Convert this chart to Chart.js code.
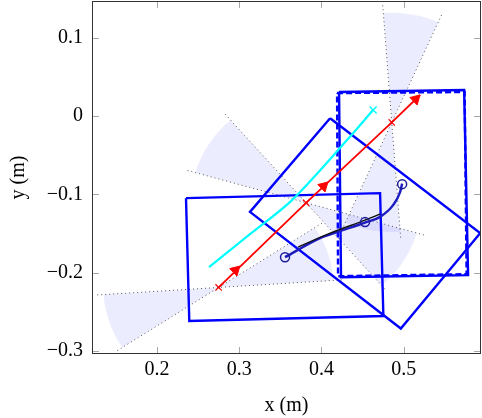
<!DOCTYPE html>
<html>
<head>
<meta charset="utf-8">
<script src="https://cdn.jsdelivr.net/npm/chart.js@4.4.0/dist/chart.umd.min.js"></script>
<style>
  html, body { margin: 0; padding: 0; background: #fff; }
  #wrap { width: 482px; height: 418px; }
</style>
</head>
<body>
<div id="wrap"><canvas id="fovChart" width="482" height="418"></canvas></div>
<script>
// Axis ticks
const xTicks = [0.2, 0.3, 0.4, 0.5];
const yTicks = [-0.3, -0.2, -0.1, 0, 0.1];

// Sensor cones: apex and the two boundary directions (deg)
const wedgeX = [0.2750, 0.3813, 0.4855];
const wedgeY = [-0.2190, -0.1108, -0.0081];
const wedgeFrom = [3.7, 131, 66.2];
const wedgeTo = [33.2, 164, 94.2];
const shadeRadius = 0.14;
const rayLength = 0.15;

// Red pose line
const redX = [0.2750, 0.3813, 0.4855, 0.5200];
const redY = [-0.2190, -0.1108, -0.0081, 0.0269];
const arrowX = [0.2955, 0.4026, 0.5146];
const arrowY = [-0.1970, -0.0896, 0.0216];

// Cyan path
const cyanX = [0.2633, 0.3131, 0.3642, 0.4311, 0.4628];
const cyanY = [-0.1931, -0.1509, -0.1074, -0.0307, 0.0077];

// Boxes (corners)
const boxAX = [0.2353, 0.4713, 0.4753, 0.2393];
const boxAY = [-0.1049, -0.0985, -0.2554, -0.2618];
const boxBX = [0.4105, 0.5929, 0.4965, 0.3131];
const boxBY = [-0.0029, -0.1496, -0.2715, -0.1224];
const boxCX = [0.4214, 0.5735, 0.5783, 0.4238];
const boxCY = [0.0307, 0.0332, -0.2033, -0.2059];
const boxDX = [0.4190, 0.5741, 0.5765, 0.4202];
const boxDY = [0.0294, 0.0307, -0.2020, -0.2046];

// Trajectory
const trajX = [0.3557, 0.3983, 0.4190, 0.4530, 0.4713, 0.4871, 0.4956, 0.4981];
const trajY = [-0.1803, -0.1560, -0.1483, -0.1362, -0.1288, -0.1138, -0.0972, -0.0863];
const refX = [0.3715, 0.4105, 0.4530, 0.4713];
const refY = [-0.1675, -0.1496, -0.1330, -0.1253];
const waypointX = [0.3557, 0.4530, 0.4981];
const waypointY = [-0.1803, -0.1355, -0.0870];

const pts = (xs, ys) => xs.map((x, i) => ({x: x, y: ys[i]}));
const closed = (xs, ys) => { const p = pts(xs, ys); p.push(p[0]); return p; };
const rad = d => d * Math.PI / 180;

function wedgeShape(i) {
    const apex = {x: wedgeX[i], y: wedgeY[i]};
    const out = [apex];
    [0, 180].forEach(off => {
        const n = 30;
        for (let k = 0; k <= n; k++) {
            const a = rad(wedgeFrom[i] + (wedgeTo[i] - wedgeFrom[i]) * k / n + off);
            out.push({x: apex.x + shadeRadius * Math.cos(a), y: apex.y + shadeRadius * Math.sin(a)});
        }
        out.push(apex);
    });
    return out;
}

function ray(i, deg) {
    const a = rad(deg);
    return [
        {x: wedgeX[i] + rayLength * Math.cos(a), y: wedgeY[i] + rayLength * Math.sin(a)},
        {x: wedgeX[i] - rayLength * Math.cos(a), y: wedgeY[i] - rayLength * Math.sin(a)}
    ];
}

const datasets = [];

// shaded cones
wedgeX.forEach((_, i) => {
    datasets.push({
        data: wedgeShape(i),
        borderWidth: 0,
        borderColor: 'rgba(0,0,0,0)',
        backgroundColor: 'rgba(0,0,255,0.075)',
        fill: 'shape'
    });
});

// dotted cone edges
wedgeX.forEach((_, i) => {
    [wedgeFrom[i], wedgeTo[i]].forEach(d => {
        datasets.push({
            data: ray(i, d),
            borderColor: '#555',
            borderWidth: 1,
            borderDash: [1, 3],
            fill: false
        });
    });
});

// boxes
[[boxAX, boxAY, []], [boxBX, boxBY, []], [boxCX, boxCY, []], [boxDX, boxDY, [6, 3]]].forEach(b => {
    datasets.push({
        data: closed(b[0], b[1]),
        borderColor: '#0000ff',
        borderWidth: 2.4,
        borderDash: b[2],
        borderJoinStyle: 'miter',
        fill: false
    });
});

// cyan path + end marker
datasets.push({
    data: pts(cyanX, cyanY),
    borderColor: '#00ffff',
    borderWidth: 2.2,
    tension: 0.3,
    fill: false
});
datasets.push({
    data: [{x: cyanX[cyanX.length - 1], y: cyanY[cyanY.length - 1]}],
    showLine: false,
    pointStyle: 'crossRot',
    pointRadius: 5,
    pointBorderColor: '#00ffff',
    pointBorderWidth: 1.4
});

// red line, markers, arrowheads
datasets.push({
    data: pts(redX, redY),
    borderColor: '#ff0000',
    borderWidth: 1.8,
    fill: false
});
datasets.push({
    data: pts(wedgeX, wedgeY),
    showLine: false,
    pointStyle: 'crossRot',
    pointRadius: 4.5,
    pointBorderColor: '#ff0000',
    pointBorderWidth: 1.2
});
datasets.push({
    data: pts(arrowX, arrowY),
    showLine: false,
    pointStyle: 'triangle',
    pointRotation: 46,
    pointRadius: 6,
    pointBackgroundColor: '#ff0000',
    pointBorderColor: '#ff0000',
    pointBorderWidth: 1
});

// trajectory
datasets.push({
    data: pts(trajX, trajY),
    borderColor: '#1c1cc0',
    borderWidth: 2.4,
    cubicInterpolationMode: 'monotone',
    fill: false
});
datasets.push({
    data: pts(refX, refY),
    borderColor: '#111',
    borderWidth: 1.4,
    cubicInterpolationMode: 'monotone',
    fill: false
});
datasets.push({
    data: pts(waypointX, waypointY),
    showLine: false,
    pointStyle: 'circle',
    pointRadius: 4.5,
    pointBackgroundColor: 'rgba(0,0,0,0)',
    pointBorderColor: '#1a1a9c',
    pointBorderWidth: 1.5
});

// first pushed = bottom layer
datasets.forEach((d, i) => { d.order = datasets.length - i; d.clip = 0; });

const fmt = v => (v === 0 ? '0' : v.toFixed(1).replace('-', '\u2212'));

const frameTicks = {
    id: 'frameTicks',
    afterDraw(chart) {
        const {ctx, chartArea: a, scales: {x, y}} = chart;
        ctx.save();
        ctx.strokeStyle = '#a8a8a8';
        ctx.lineWidth = 1;
        ctx.beginPath();
        xTicks.forEach(v => {
            const px = Math.round(x.getPixelForValue(v)) + 0.5;
            ctx.moveTo(px, a.bottom); ctx.lineTo(px, a.bottom - 7);
            ctx.moveTo(px, a.top); ctx.lineTo(px, a.top + 7);
        });
        yTicks.forEach(v => {
            const py = Math.round(y.getPixelForValue(v)) + 0.5;
            ctx.moveTo(a.left, py); ctx.lineTo(a.left + 7, py);
            ctx.moveTo(a.right, py); ctx.lineTo(a.right - 7, py);
        });
        ctx.stroke();
        ctx.strokeStyle = '#333';
        ctx.strokeRect(a.left + 0.5, a.top + 0.5, a.right - a.left - 1, a.bottom - a.top - 1);
        ctx.restore();
    }
};

Chart.defaults.font.family = "'Liberation Serif', serif";
Chart.defaults.font.size = 20;
Chart.defaults.color = '#000';

new Chart(document.getElementById('fovChart'), {
    type: 'line',
    data: { datasets: datasets },
    options: {
        responsive: false,
        animation: false,
        layout: { autoPadding: false, padding: { top: 1, right: 1, left: 0, bottom: 0 } },
        elements: { point: { radius: 0, hoverRadius: 0 }, line: { tension: 0 } },
        scales: {
            x: {
                type: 'linear',
                min: 0.121,
                max: 0.594,
                afterBuildTicks: s => { s.ticks = xTicks.map(v => ({value: v})); },
                afterFit: s => { s.height = 64; s.paddingLeft = 0; s.paddingRight = 0; },
                grid: { display: false, drawTicks: false },
                border: { display: false },
                ticks: { padding: 4, callback: v => fmt(v) },
                title: { display: true, text: 'x (m)', padding: { top: 2, bottom: 0 } }
            },
            y: {
                type: 'linear',
                min: -0.304,
                max: 0.147,
                afterBuildTicks: s => { s.ticks = yTicks.map(v => ({value: v})); },
                afterFit: s => { s.width = 92; s.paddingTop = 0; s.paddingBottom = 0; },
                grid: { display: false, drawTicks: false },
                border: { display: false },
                ticks: { padding: 9, callback: v => fmt(v) },
                title: { display: true, text: 'y (m)', padding: { top: 7, bottom: 0 } }
            }
        },
        plugins: {
            legend: { display: false },
            tooltip: { enabled: false }
        }
    },
    plugins: [frameTicks]
});
</script>
</body>
</html>
